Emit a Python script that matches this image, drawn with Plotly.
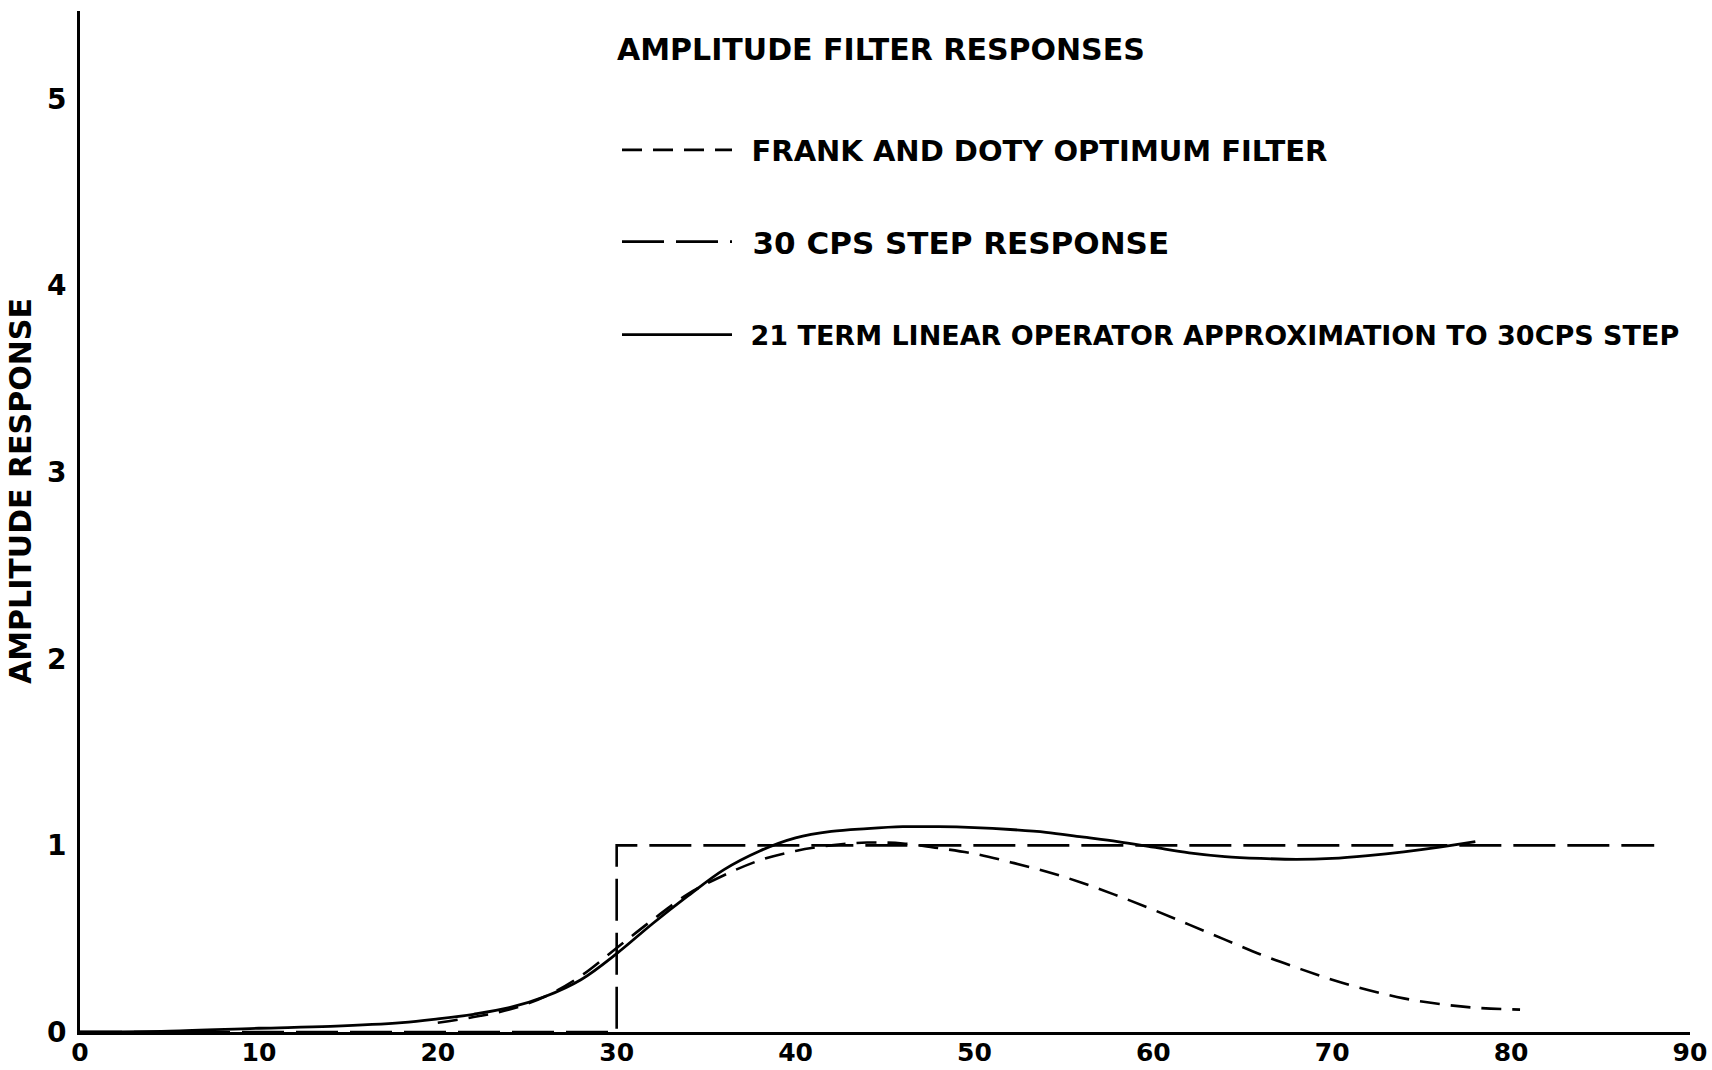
import plotly.graph_objects as go

# ---- data ----
x_ticks = [0, 10, 20, 30, 40, 50, 60, 70, 80, 90]
y_ticks = [0, 1, 2, 3, 4, 5]

step_x = [0, 30, 30, 88]
step_y = [0.0, 0.0, 1.0, 1.0]

frank_x = [20, 22, 24, 26, 28, 30, 32, 34, 36, 38, 40, 42, 44, 46, 48, 50, 52, 54,
           56, 58, 60, 62, 64, 66, 68, 70, 72, 74, 76, 78, 80.5]
frank_y = [0.05, 0.08, 0.12, 0.19, 0.30, 0.45, 0.60, 0.74, 0.84, 0.92, 0.97, 1.00,
           1.015, 1.01, 0.985, 0.955, 0.91, 0.86, 0.80, 0.73, 0.655, 0.575, 0.495,
           0.415, 0.345, 0.28, 0.225, 0.18, 0.15, 0.13, 0.12]

op_x = [0, 5, 10, 14, 18, 20, 22, 24, 26, 28, 30, 32, 34, 36, 38, 40, 42, 44, 46,
        48, 50, 52, 54, 56, 58, 60, 62, 64, 66, 68, 70, 72, 74, 76, 78]
op_y = [0.0, 0.005, 0.02, 0.03, 0.05, 0.07, 0.095, 0.13, 0.19, 0.28, 0.42, 0.58,
        0.73, 0.87, 0.97, 1.04, 1.075, 1.09, 1.10, 1.10, 1.095, 1.085, 1.07, 1.045,
        1.02, 0.99, 0.96, 0.94, 0.93, 0.925, 0.93, 0.945, 0.965, 0.99, 1.02]

title_text = "AMPLITUDE FILTER RESPONSES"
frank_name = "FRANK AND DOTY OPTIMUM FILTER"
step_name = "30 CPS STEP RESPONSE"
op_name = "21 TERM LINEAR OPERATOR APPROXIMATION TO 30CPS STEP"
y_title = "AMPLITUDE RESPONSE"

FONT = "DejaVu Sans"
W, H = 1712, 1070
ml, mr, mt, mb = 80, 22, 11, 38
ph = H - mt - mb
GAP = "\u2002"

def py(pix):
    return (H - mb - pix) / ph

fig = go.Figure()
fig.add_trace(go.Scatter(x=frank_x, y=frank_y, mode="lines", name=GAP + frank_name,
                         line=dict(color="black", width=2.6, dash="20px,11px", shape="spline"),
                         legend="legend", showlegend=True))
fig.add_trace(go.Scatter(x=step_x, y=step_y, mode="lines", name=GAP + step_name,
                         line=dict(color="black", width=2.6, dash="42px,12px"),
                         legend="legend2", showlegend=True))
fig.add_trace(go.Scatter(x=op_x, y=op_y, mode="lines", name=GAP + op_name,
                         line=dict(color="black", width=2.8, shape="spline"),
                         legend="legend3", showlegend=True))

leg_common = dict(x=(617 - ml) / (W - ml - mr), xanchor="left", yanchor="middle",
                  bgcolor="rgba(0,0,0,0)", borderwidth=0, itemwidth=110, visible=True)

fig.update_layout(
    width=W, height=H,
    margin=dict(l=ml, r=mr, t=mt, b=mb, autoexpand=False),
    paper_bgcolor="white", plot_bgcolor="white",
    showlegend=True,
    font=dict(family=FONT, color="black"),
    title=dict(text="<b>" + title_text + "</b>", x=617 / W, xanchor="left",
               y=1 - 49 / H, yanchor="middle", xref="container", yref="container",
               font=dict(family=FONT, size=30, color="black")),
    legend=dict(y=py(150), font=dict(family=FONT, size=29, color="black", weight="bold"), **leg_common),
    legend2=dict(y=py(242), font=dict(family=FONT, size=31, color="black", weight="bold"), **leg_common),
    legend3=dict(y=py(335), font=dict(family=FONT, size=27, color="black", weight="bold"), **leg_common),
    xaxis=dict(range=[0, 90], tickvals=x_ticks, showgrid=False, zeroline=False,
               showline=True, linecolor="black", linewidth=3, ticks="", automargin=False,
               tickfont=dict(family=FONT, size=25, color="black", weight="bold"),
               ticklabelstandoff=-4),
    yaxis=dict(range=[0, 5.47], tickvals=y_ticks, showgrid=False, zeroline=False,
               showline=True, linecolor="black", linewidth=3, ticks="", automargin=False,
               tickfont=dict(family=FONT, size=28, color="black", weight="bold"),
               ticklabelstandoff=5),
    annotations=[dict(text="<b>" + y_title + "</b>", textangle=-90, xref="paper", yref="paper",
                      x=(20 - ml) / (W - ml - mr), y=py(491), xanchor="center", yanchor="middle",
                      showarrow=False, font=dict(family=FONT, size=30, color="black"))],
)

fig.write_html("out.html")
